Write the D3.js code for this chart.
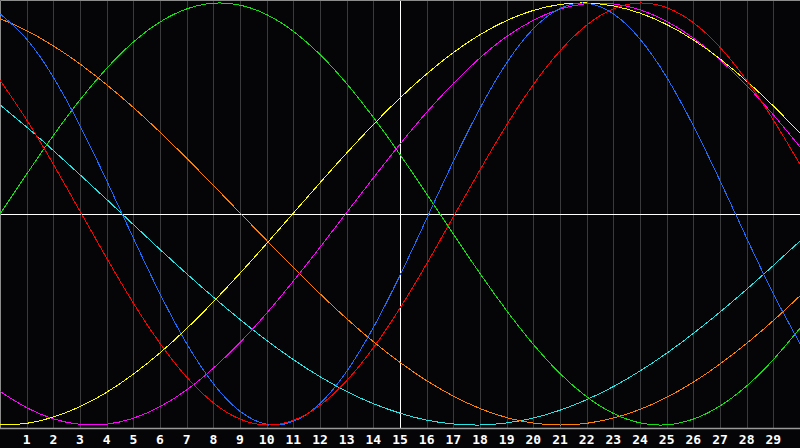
<!DOCTYPE html>
<html>
<head>
<meta charset="utf-8">
<script src="https://cdn.jsdelivr.net/npm/d3@7"></script>
<style>
  html, body { margin: 0; padding: 0; background: #050507; }
  svg { display: block; }
  .day-label { font-family: 'DejaVu Sans Mono', monospace; font-weight: bold; font-size: 13px; fill: #ffffff; }
</style>
</head>
<body>
<div id="chart"></div>
<script>
// days shown along the bottom
const days = d3.range(0, 31);
const dayLabels = d3.range(1, 30);
const today = 15;

// cycle values, one per day (day 0 .. day 30), -1 .. 1
const cycle23 = [0.949, 0.829, 0.648, 0.418, 0.158, -0.114, -0.378, -0.614, -0.804, -0.935, -0.996, -0.983, -0.898, -0.746, -0.538, -0.291, -0.022, 0.249, 0.501, 0.716, 0.878, 0.974, 0.999, 0.949, 0.829, 0.648, 0.418, 0.158, -0.114, -0.378, -0.614];
const cycle28 = [0.634, 0.446, 0.236, 0.013, -0.209, -0.422, -0.613, -0.773, -0.895, -0.972, -1.0, -0.978, -0.907, -0.790, -0.634, -0.446, -0.236, -0.013, 0.209, 0.422, 0.613, 0.773, 0.895, 0.972, 1.0, 0.978, 0.907, 0.790, 0.634, 0.446, 0.236];
const cycle33 = [0.0, 0.189, 0.372, 0.541, 0.690, 0.815, 0.910, 0.972, 0.999, 0.990, 0.945, 0.866, 0.756, 0.618, 0.458, 0.282, 0.095, -0.095, -0.282, -0.458, -0.618, -0.756, -0.866, -0.945, -0.990, -0.999, -0.972, -0.910, -0.815, -0.690, -0.541];
const cycle38 = [-0.841, -0.918, -0.971, -0.997, -0.996, -0.968, -0.913, -0.834, -0.731, -0.609, -0.470, -0.318, -0.158, 0.007, 0.171, 0.331, 0.482, 0.619, 0.740, 0.841, 0.918, 0.971, 0.997, 0.996, 0.968, 0.913, 0.834, 0.731, 0.609, 0.470, 0.318];
const cycle43 = [-1.0, -0.992, -0.962, -0.913, -0.845, -0.759, -0.658, -0.543, -0.416, -0.281, -0.140, 0.004, 0.148, 0.289, 0.424, 0.550, 0.664, 0.765, 0.850, 0.917, 0.965, 0.993, 1.0, 0.986, 0.952, 0.898, 0.825, 0.735, 0.630, 0.512, 0.383];
const cycle48 = [0.926, 0.869, 0.797, 0.711, 0.613, 0.505, 0.388, 0.264, 0.136, 0.005, -0.125, -0.254, -0.378, -0.496, -0.605, -0.703, -0.790, -0.863, -0.922, -0.965, -0.991, -1.0, -0.992, -0.967, -0.926, -0.869, -0.797, -0.711, -0.613, -0.505, -0.388];
const cycle53 = [0.517, 0.412, 0.301, 0.186, 0.069, -0.050, -0.168, -0.283, -0.394, -0.500, -0.599, -0.690, -0.771, -0.841, -0.899, -0.944, -0.977, -0.995, -1.0, -0.990, -0.967, -0.930, -0.880, -0.818, -0.744, -0.660, -0.566, -0.465, -0.357, -0.244, -0.128];

const series = [
  { name: 'cycle53', color: '#22e6e6', values: cycle53 },
  { name: 'cycle48', color: '#ff7f00', values: cycle48 },
  { name: 'cycle33', color: '#11e011', values: cycle33 },
  { name: 'cycle38', color: '#ff00ff', values: cycle38 },
  { name: 'cycle43', color: '#ffff00', values: cycle43 },
  { name: 'cycle23', color: '#1a6cff', values: cycle23 },
  { name: 'cycle28', color: '#ff0000', values: cycle28 }
];

const width = 800;
const height = 448;
const plotBottom = 428;

const svg = d3
  .select('#chart')
  .append('svg')
  .attr('width', width)
  .attr('height', height);

svg.append('rect')
  .attr('width', width)
  .attr('height', height)
  .attr('fill', '#050507');

const x = d3.scaleLinear().domain([0, 30]).range([0, width]);
const y = d3.scaleLinear().domain([-1, 1]).range([425, 3]);

// day grid
svg.append('g')
  .attr('class', 'grid')
  .selectAll('line')
  .data(dayLabels)
  .join('line')
  .attr('x1', (d) => Math.round(x(d)) + 0.5)
  .attr('x2', (d) => Math.round(x(d)) + 0.5)
  .attr('y1', 0)
  .attr('y2', plotBottom)
  .attr('stroke', (d) => (d === today ? '#ffffff' : '#3a3a3c'))
  .attr('stroke-width', 1);

// zero line
svg.append('line')
  .attr('x1', 0)
  .attr('x2', width)
  .attr('y1', Math.round(y(0)) + 0.5)
  .attr('y2', Math.round(y(0)) + 0.5)
  .attr('stroke', '#ffffff');

// frame
svg.append('path')
  .attr('d', `M0.5,${plotBottom + 0.5}V0.5H${width}`)
  .attr('fill', 'none')
  .attr('stroke', '#8c8c8c');
svg.append('line')
  .attr('x1', 0)
  .attr('x2', width)
  .attr('y1', plotBottom + 0.5)
  .attr('y2', plotBottom + 0.5)
  .attr('stroke', '#9a9a9a')
  .attr('stroke-width', 1.5);

const line = d3
  .line()
  .x((d, i) => x(days[i]))
  .y((d) => y(d))
  .curve(d3.curveNatural);

svg.append('g')
  .attr('class', 'cycles')
  .selectAll('path')
  .data(series)
  .join('path')
  .attr('d', (d) => line(d.values))
  .attr('fill', 'none')
  .attr('stroke', (d) => d.color)
  .attr('stroke-width', 1)
  .attr('shape-rendering', 'crispEdges');

// day labels
svg.append('g')
  .selectAll('text')
  .data(dayLabels)
  .join('text')
  .attr('class', 'day-label')
  .attr('x', (d) => x(d))
  .attr('y', 444)
  .attr('text-anchor', 'middle')
  .text((d) => d);
</script>
</body>
</html>
